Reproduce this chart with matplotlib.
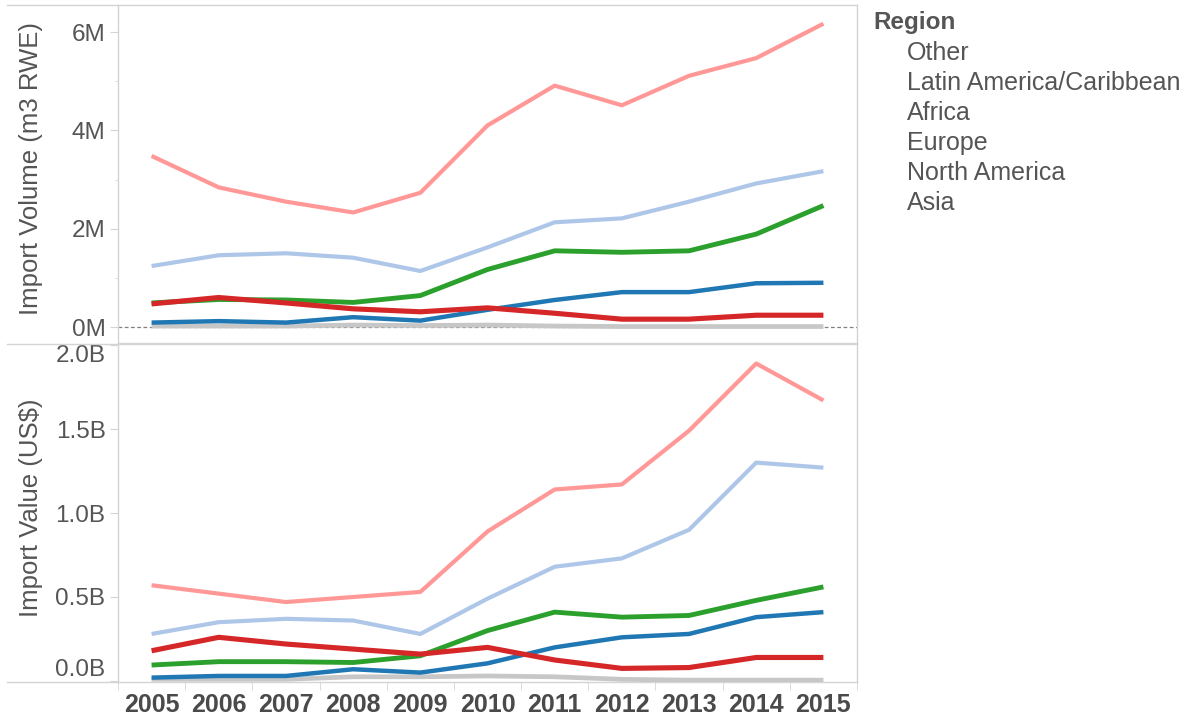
import matplotlib
matplotlib.use("Agg")
import matplotlib.pyplot as plt
from matplotlib.lines import Line2D
from matplotlib.ticker import FixedLocator

plt.rcParams['font.family'] = ['Liberation Sans', 'DejaVu Sans']

years = ["2005", "2006", "2007", "2008", "2009", "2010", "2011", "2012", "2013", "2014", "2015"]
regions = ["Other", "Latin America/Caribbean", "Africa", "Europe", "North America", "Asia"]
colors = ["#c7c7c7", "#d62728", "#1f77b4", "#2ca02c", "#aec7e8", "#ff9896"]

# Import volume, millions m3 RWE
vol_other = [0.02, 0.02, 0.02, 0.04, 0.03, 0.04, 0.02, 0.01, 0.01, 0.01, 0.01]
vol_latam = [0.47, 0.60, 0.49, 0.37, 0.31, 0.39, 0.28, 0.16, 0.16, 0.24, 0.24]
vol_africa = [0.09, 0.12, 0.09, 0.20, 0.13, 0.35, 0.55, 0.71, 0.71, 0.89, 0.90]
vol_europe = [0.49, 0.56, 0.55, 0.50, 0.64, 1.17, 1.55, 1.52, 1.55, 1.89, 2.47]
vol_namerica = [1.24, 1.46, 1.50, 1.41, 1.14, 1.62, 2.13, 2.21, 2.55, 2.92, 3.17]
vol_asia = [3.48, 2.84, 2.55, 2.33, 2.73, 4.10, 4.91, 4.51, 5.11, 5.47, 6.17]

# Import value, billions US$
val_other = [0.01, 0.01, 0.01, 0.025, 0.025, 0.03, 0.025, 0.01, 0.005, 0.005, 0.005]
val_latam = [0.18, 0.26, 0.22, 0.19, 0.16, 0.20, 0.125, 0.075, 0.08, 0.14, 0.14]
val_africa = [0.02, 0.03, 0.03, 0.07, 0.05, 0.105, 0.20, 0.26, 0.28, 0.38, 0.41]
val_europe = [0.095, 0.115, 0.115, 0.11, 0.15, 0.30, 0.41, 0.38, 0.39, 0.48, 0.56]
val_namerica = [0.28, 0.35, 0.37, 0.36, 0.28, 0.49, 0.68, 0.73, 0.90, 1.30, 1.27]
val_asia = [0.57, 0.52, 0.47, 0.50, 0.53, 0.89, 1.14, 1.17, 1.49, 1.89, 1.67]

vol_series = [vol_other, vol_latam, vol_africa, vol_europe, vol_namerica, vol_asia]
val_series = [val_other, val_latam, val_africa, val_europe, val_namerica, val_asia]
widths = [3.4, 3.7, 3.2, 3.5, 3.0, 3.0]
# drawing order (bottom to top)
order = [0, 5, 4, 2, 3, 1]

W, H = 1197, 720
fig = plt.figure(figsize=(W / 100, H / 100), dpi=100)
left, right = 118 / W, 857 / W
ax1 = fig.add_axes([left, 1 - 343 / H, right - left, 338 / H])
ax2 = fig.add_axes([left, 1 - 682 / H, right - left, 338 / H])

x = list(range(len(years)))
spine_c = "#d4d4d4"
text_c = "#555555"

for ax, series in ((ax1, vol_series), (ax2, val_series)):
    for i in order:
        ax.plot(x, series[i], color=colors[i], lw=widths[i],
                solid_joinstyle="round", solid_capstyle="butt", zorder=3)
    ax.set_xlim(-0.5, len(years) - 0.5)
    for s in ax.spines.values():
        s.set_color(spine_c)
        s.set_linewidth(1)
    ax.tick_params(axis="y", which="major", length=6, color=spine_c,
                   labelsize=17.5, labelcolor=text_c, pad=3)
    ax.tick_params(axis="y", which="minor", length=2.5, color=spine_c)

ax1.axhline(0, color="#808080", lw=0.9, ls=(0, (3, 2)), zorder=2)
ax1.set_ylim(-0.325, 6.55)
ax1.set_yticks([0, 2, 4, 6])
ax1.set_yticklabels(["0M", "2M", "4M", "6M"])
ax1.yaxis.set_minor_locator(FixedLocator([1, 3, 5]))
ax1.set_xticks([])
ax1.set_ylabel("Import Volume (m3 RWE)", fontsize=18.5, color=text_c, va="center")
ax1.yaxis.set_label_coords(-0.118, 0.517)

ax2.set_ylim(-0.006, 2.006)
ax2.set_yticks([0, 0.5, 1.0, 1.5, 2.0])
ax2.set_yticklabels(["0.0B", "0.5B", "1.0B", "1.5B", "2.0B"])
labs = ax2.get_yticklabels()
labs[0].set_va("bottom")
labs[-1].set_va("top")
ax2.set_ylabel("Import Value (US$)", fontsize=18.5, color=text_c, va="center")
ax2.yaxis.set_label_coords(-0.118, 0.517)
ax2.set_xticks(x)
ax2.set_xticklabels(years)
ax2.tick_params(axis="x", which="major", length=0, pad=8, labelsize=18,
                labelcolor="#4a4a4a")
for t in ax2.get_xticklabels():
    t.set_fontweight("bold")
ax2.xaxis.set_minor_locator(FixedLocator([k - 0.5 for k in range(len(years) + 1)]))
ax2.tick_params(axis="x", which="minor", length=6, color=spine_c)

# header border extensions
for ypix in (5, 343.5, 682):
    fig.add_artist(Line2D([7 / W, left], [1 - ypix / H, 1 - ypix / H],
                          color=spine_c, lw=1, transform=fig.transFigure))

# legend (text only)
fig.text(873 / W, 1 - 23 / H, "Region", fontsize=17.5, fontweight="bold",
         color=text_c, va="center", ha="left")
for k, name in enumerate(regions):
    fig.text(907 / W, 1 - (53 + 30 * k) / H, name, fontsize=18,
             color=text_c, va="center", ha="left")

fig.savefig("out.png", dpi=100)
